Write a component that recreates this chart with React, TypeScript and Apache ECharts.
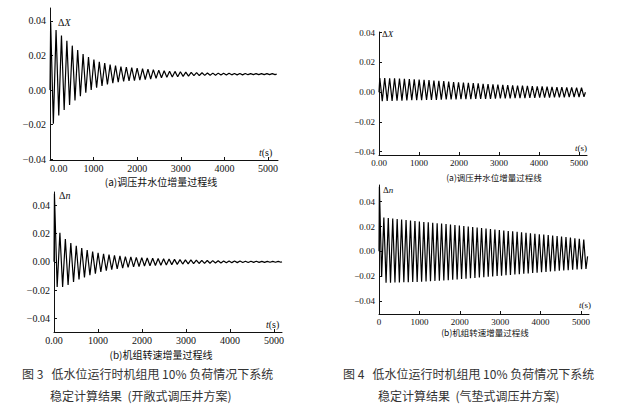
import React, { useEffect, useRef } from 'react';
import * as echarts from 'echarts';

// shared tick values
const xTickValues = [0, 1000, 2000, 3000, 4000, 5000];
const yTickValues = [-0.04, -0.02, 0, 0.02, 0.04];

// Fig.3 (a) surge tank water level increment ΔX: alternating peak / trough values
const fig3aStart = 15; // time of first extreme (s)
const fig3aHalfPeriod = 62; // time between successive extremes (s)
const fig3aExtremes = [
  0.0391, -0.0195, 0.0347, -0.0147, 0.0315, -0.0116, 0.0285, -0.0087, 0.0257, -0.006,
  0.0231, -0.0036, 0.0208, -0.0016, 0.0191, 0.0, 0.0176, 0.0014, 0.0164, 0.0024,
  0.0156, 0.0032, 0.0147, 0.004, 0.0141, 0.0046, 0.0135, 0.005, 0.0133, 0.0053,
  0.013, 0.0055, 0.0127, 0.0058, 0.0124, 0.0061, 0.0121, 0.0064, 0.0118, 0.0068,
  0.0115, 0.0071, 0.0112, 0.0074, 0.0109, 0.0076, 0.0108, 0.0077, 0.0106, 0.0079,
  0.0104, 0.0081, 0.0102, 0.0083, 0.0101, 0.0084, 0.01, 0.0085, 0.0099, 0.0086,
  0.0098, 0.0086, 0.0098, 0.0087, 0.0097, 0.0087, 0.0097, 0.0088, 0.0096, 0.0088,
  0.0096, 0.0088, 0.0096, 0.0089, 0.0095, 0.0089, 0.0095, 0.0089, 0.0095, 0.0089,
  0.0095, 0.0089, 0.0095, 0.0089,
];
const fig3aFirst: [number, number] = [0, 0.0];
const fig3aLast: [number, number] = [5200, 0.0092];

// Fig.3 (b) unit speed increment Δn
const fig3bStart = 10;
const fig3bHalfPeriod = 62;
const fig3bExtremes = [
  0.048, -0.0177, 0.0205, -0.0177, 0.016, -0.0163, 0.0132, -0.0143, 0.0113, -0.0125,
  0.0097, -0.011, 0.0083, -0.0095, 0.0072, -0.0083, 0.0063, -0.0072, 0.0056, -0.0063,
  0.005, -0.0056, 0.0045, -0.005, 0.0041, -0.0045, 0.0037, -0.004, 0.0034, -0.0036,
  0.0031, -0.0033, 0.0029, -0.003, 0.0027, -0.0028, 0.0025, -0.0026, 0.0023, -0.0024,
  0.0021, -0.0022, 0.0019, -0.002, 0.0017, -0.0018, 0.0015, -0.0016, 0.0014, -0.0015,
  0.0013, -0.0013, 0.0011, -0.0012, 0.001, -0.0011, 0.0009, -0.001, 0.0008, -0.0009,
  0.0007, -0.0008, 0.0006, -0.0007, 0.0006, -0.0006, 0.0005, -0.0006, 0.0005, -0.0005,
  0.0004, -0.0005, 0.0004, -0.0004, 0.0004, -0.0004, 0.0003, -0.0004, 0.0003, -0.0003,
  0.0003, -0.0003, 0.0003, -0.0003,
];
const fig3bFirst: [number, number] = [0, 0.0];
const fig3bLast: [number, number] = [5180, 0.0];

// Fig.4 (a) ΔX with air-cushion surge chamber
const fig4aStart = 20;
const fig4aHalfPeriod = 61.5;
const fig4aExtremes = [
  0.0096, -0.006, 0.0095, -0.0059, 0.0094, -0.0058, 0.0093, -0.0057, 0.0092, -0.0056,
  0.009, -0.0055, 0.0088, -0.0054, 0.0086, -0.0053, 0.0085, -0.0053, 0.0083, -0.0052,
  0.0081, -0.0051, 0.0079, -0.0051, 0.0077, -0.005, 0.0075, -0.0049, 0.0071, -0.0049,
  0.0069, -0.0048, 0.0067, -0.0047, 0.0065, -0.0047, 0.0063, -0.0046, 0.0061, -0.0045,
  0.0059, -0.0045, 0.0057, -0.0044, 0.0055, -0.0044, 0.0053, -0.0043, 0.0052, -0.0042,
  0.005, -0.0042, 0.0048, -0.0041, 0.0047, -0.004, 0.0045, -0.004, 0.0044, -0.0039,
  0.0043, -0.0038, 0.0041, -0.0038, 0.004, -0.0037, 0.0039, -0.0036, 0.0038, -0.0036,
  0.0036, -0.0035, 0.0035, -0.0034, 0.0034, -0.0034, 0.0033, -0.0033, 0.0032, -0.0032,
  0.0031, -0.0032, 0.003, -0.0031,
];
const fig4aFirst: [number, number] = [0, 0.0];
const fig4aLast: [number, number] = [5160, 0.0];

// Fig.4 (b) Δn with air-cushion surge chamber
const fig4bStart = 10;
const fig4bHalfPeriod = 55;
const fig4bExtremes = [
  0.052, -0.0207, 0.0272, -0.0252, 0.0268, -0.0252, 0.0264, -0.0251, 0.026, -0.025,
  0.0256, -0.0249, 0.0252, -0.0248, 0.0248, -0.0247, 0.0244, -0.0246, 0.024, -0.0244,
  0.0237, -0.0242, 0.0234, -0.024, 0.023, -0.0238, 0.0227, -0.0236, 0.0224, -0.0234,
  0.022, -0.0232, 0.0216, -0.0229, 0.0212, -0.0226, 0.0208, -0.0223, 0.0204, -0.022,
  0.02, -0.0217, 0.0196, -0.0214, 0.0192, -0.0211, 0.0188, -0.0208, 0.0184, -0.0205,
  0.018, -0.0202, 0.0176, -0.0199, 0.0172, -0.0196, 0.0168, -0.0193, 0.0164, -0.019,
  0.0161, -0.0187, 0.0157, -0.0184, 0.0153, -0.0181, 0.0149, -0.0178, 0.0146, -0.0175,
  0.0142, -0.0172, 0.0138, -0.0169, 0.0135, -0.0166, 0.0131, -0.0163, 0.0127, -0.016,
  0.0123, -0.0157, 0.0119, -0.0154, 0.0115, -0.0151, 0.0111, -0.0148, 0.0106, -0.0146,
  0.0101, -0.0144, 0.0096, -0.0142,
];
const fig4bFirst: [number, number] = [0, 0.0];
const fig4bLast: [number, number] = [5165, -0.004];

// texts
const subA = '(a)调压井水位增量过程线';
const subB = '(b)机组转速增量过程线';
const cap3Line1 = '图 3   低水位运行时机组甩 10% 负荷情况下系统';
const cap3Line2 = '稳定计算结果  (开敞式调压井方案)';
const cap4Line1 = '图 4   低水位运行时机组甩 10% 负荷情况下系统';
const cap4Line2 = '稳定计算结果  (气垫式调压井方案)';

function buildSeries(first: [number, number], start: number, half: number, ext: number[], last: [number, number]) {
  const d: [number, number][] = [first];
  ext.forEach((v, i) => d.push([start + i * half, v]));
  d.push(last);
  return d;
}

const SERIF = '"Liberation Serif", "DejaVu Serif", serif';
const CJK = '"Noto Sans CJK SC", sans-serif';

function fmtY(v: number) {
  if (Math.abs(v) < 1e-9) return '0.00';
  return v < 0 ? '\u2212' + Math.abs(v).toFixed(2) : v.toFixed(2);
}

export default function App() {
  const ref = useRef<HTMLDivElement>(null);
  useEffect(() => {
    if (!ref.current) return;
    const chart = echarts.init(ref.current, undefined, { renderer: 'svg' });

    const grids = [
      { left: 50, top: 8, width: 228, height: 152 },
      { left: 54, top: 192, width: 228, height: 140 },
      { left: 379, top: 32, width: 208, height: 123 },
      { left: 379, top: 185, width: 210, height: 129 },
    ];
    const yRanges = [
      [-0.0405, 0.0475],
      [-0.0495, 0.0492],
      [-0.0422, 0.0405],
      [-0.0505, 0.0535],
    ];
    const xMax = [5230, 5180, 5200, 5200];
    const fs = [10, 10, 9, 9];

    const xAxes = grids.map((_, i) => ({
      type: 'value',
      gridIndex: i,
      min: 0,
      max: xMax[i],
      axisLine: { show: true, onZero: false, lineStyle: { color: '#111', width: 1 } },
      axisTick: { show: true, inside: true, length: 3, customValues: xTickValues, lineStyle: { color: '#111' } },
      splitLine: { show: false },
      axisLabel: {
        customValues: xTickValues,
        margin: 3,
        fontFamily: SERIF,
        fontSize: fs[i],
        color: '#111',
        alignMinLabel: i === 0 ? 'left' : 'center',
        formatter: (v: number) => (v === 0 ? (i === 3 ? '0' : '0.00') : String(v)),
      },
    }));
    const yAxes = grids.map((_, i) => ({
      type: 'value',
      gridIndex: i,
      min: yRanges[i][0],
      max: yRanges[i][1],
      axisLine: { show: true, onZero: false, lineStyle: { color: '#111', width: 1 } },
      axisTick: { show: true, inside: true, length: 3, customValues: yTickValues, lineStyle: { color: '#111' } },
      splitLine: { show: false },
      axisLabel: {
        customValues: yTickValues,
        margin: 4,
        fontFamily: SERIF,
        fontSize: fs[i],
        color: '#111',
        formatter: fmtY,
      },
    }));

    const datas = [
      buildSeries(fig3aFirst, fig3aStart, fig3aHalfPeriod, fig3aExtremes, fig3aLast),
      buildSeries(fig3bFirst, fig3bStart, fig3bHalfPeriod, fig3bExtremes, fig3bLast),
      buildSeries(fig4aFirst, fig4aStart, fig4aHalfPeriod, fig4aExtremes, fig4aLast),
      buildSeries(fig4bFirst, fig4bStart, fig4bHalfPeriod, fig4bExtremes, fig4bLast),
    ];
    const series = datas.map((d, i) => ({
      type: 'line',
      xAxisIndex: i,
      yAxisIndex: i,
      data: d,
      showSymbol: false,
      symbol: 'none',
      lineStyle: { color: '#000', width: 1.2 },
      clip: false,
    }));

    const txt = (x: number, y: number, text: string, font: string, align = 'left', extra: any = {}) => ({
      type: 'text',
      x,
      y,
      silent: true,
      style: {
        text,
        font,
        fill: '#111',
        align,
        verticalAlign: 'middle',
        textAlign: align,
        textVerticalAlign: 'middle',
        ...extra,
      },
    });
    const deltaLabel = (x: number, y: number, sym: string, size: number) =>
      txt(x, y, '{a|Δ}{b|' + sym + '}', `${size}px ${SERIF}`, 'left', {
        rich: {
          a: { fontFamily: SERIF, fontSize: size, fill: '#111' },
          b: { fontFamily: SERIF, fontSize: size, fontStyle: 'italic', fill: '#111' },
        },
      });
    const tLabel = (x: number, y: number, size: number) =>
      txt(x, y, '{b|t}{a|(s)}', `${size}px ${SERIF}`, 'left', {
        rich: {
          a: { fontFamily: SERIF, fontSize: size, fill: '#111' },
          b: { fontFamily: SERIF, fontSize: size, fontStyle: 'italic', fill: '#111' },
        },
      });

    const graphic = [
      deltaLabel(58, 22, 'X', 10),
      tLabel(259, 152, 10),
      txt(161, 181, subA, `10px ${CJK}`, 'center'),
      deltaLabel(59, 195, 'n', 10),
      tLabel(266, 324, 10),
      txt(161, 354, subB, `10px ${CJK}`, 'center'),
      deltaLabel(382, 34, 'X', 9),
      tLabel(575, 148, 9),
      txt(494, 177, subA, `8.5px ${CJK}`, 'center'),
      deltaLabel(383, 190, 'n', 9),
      tLabel(579, 305, 9),
      txt(485, 332, subB, `8.5px ${CJK}`, 'center'),
      txt(22, 373, cap3Line1, `12px ${CJK}`, 'left', { fill: '#333' }),
      txt(50, 395, cap3Line2, `12px ${CJK}`, 'left', { fill: '#333' }),
      txt(343, 373, cap4Line1, `12px ${CJK}`, 'left', { fill: '#333' }),
      txt(378, 395, cap4Line2, `12px ${CJK}`, 'left', { fill: '#333' }),
    ];

    chart.setOption({
      animation: false,
      backgroundColor: '#fff',
      grid: grids,
      xAxis: xAxes,
      yAxis: yAxes,
      series,
      graphic,
    } as any);
    return () => chart.dispose();
  }, []);
  return (
    <div
      ref={ref}
      style={{ position: 'fixed', left: 0, top: 0, width: 621, height: 414, background: '#fff' }}
    />
  );
}
